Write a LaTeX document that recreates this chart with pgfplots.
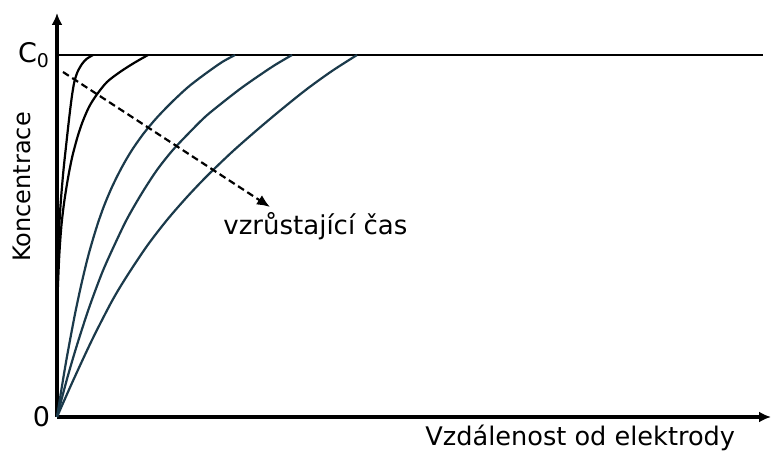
\documentclass[border=0pt]{standalone}
\usepackage{fontspec}
\setmainfont{DejaVu Sans}
\usepackage{pgfplots}
\pgfplotsset{compat=1.18}
\usetikzlibrary{arrows.meta}
\definecolor{teal1}{HTML}{1B3A4B}

\begin{document}
\begin{tikzpicture}
  \useasboundingbox (-28.5pt,-16.5pt) rectangle (357pt,208.5pt);
  \begin{axis}[
      anchor=origin, at={(0,0)},
      x=0.5pt, y=0.5pt,
      xmin=0, xmax=714, ymin=0, ymax=404,
      axis lines=left,
      axis line style={line width=1.6pt,-{Latex[length=6pt,width=5.5pt]}},
      clip=false,
      xtick=\empty,
      ytick={0,362},
      yticklabels={0,C\textsubscript{0}},
      major tick length=0pt,
      yticklabel style={font=\fontsize{13.5}{15}\selectfont},
    ]
    % C0 level
    \addplot[black, line width=1.1pt] coordinates {(0,362)(706,362)};
    % early times (black)
    \addplot[black, line width=1.1pt, smooth, tension=0.5] coordinates {
      (0.3,140)(1.5,175)(3.4,210)(6.3,245)(9.5,275)(12.3,300)(14.8,320)
      (17.3,335)(20.5,345)(25,353)(29.5,358)(36,362)};
    \addplot[black, line width=1.1pt, smooth, tension=0.5] coordinates {
      (0.5,120)(2.2,160)(4.3,190)(7.2,215)(11.2,240)(15.2,260)(20.5,280)
      (25.5,295)(32,310)(39.5,322)(50,335)(63,345)(77,354)(91,362)};
    % later times
    \addplot[teal1, line width=1.1pt, smooth, tension=0.5] coordinates {
      (0,0)(5,31)(10,60.5)(18,103)(25,135.5)(32,164)(40,191)(47,211)
      (55,230)(65,250)(75,267)(87,284)(100,299.5)(115,315)(130,329)
      (142,338.5)(155,348)(166,355.5)(178,362)};
    \addplot[teal1, line width=1.1pt, smooth, tension=0.5] coordinates {
      (0,0)(10,38)(20,72)(32,109)(45,144)(57,171)(70,198)(85,224)
      (100,247)(115,266)(130,282)(148,300)(165,314)(183,328)(200,340)
      (218,352)(235,362)};
    \addplot[teal1, line width=1.1pt, smooth, tension=0.5] coordinates {
      (0,0)(15,34)(35,77)(55,116)(70,141)(90,171)(110,197)(130,220)
      (150,241)(175,265)(200,287)(225,308)(250,328)(275,346)(300,362)};
    % time arrow
    \addplot[black, line width=1.1pt, dash pattern=on 3.5pt off 2pt,
      -{Latex[length=6.5pt,width=5.5pt]}] coordinates {(6,345)(213,210)};
    \node[anchor=base west, inner sep=0pt, font=\fontsize{13}{15}\selectfont]
      at (axis cs:166,182) {vzrůstající čas};
    \node[anchor=base west, inner sep=0pt, font=\fontsize{12.8}{15}\selectfont]
      at (axis cs:368,-28) {Vzdálenost od elektrody};
    \node[anchor=base, rotate=90, inner sep=0pt, font=\fontsize{12}{14}\selectfont]
      at (axis cs:-26,230) {Koncentrace};
  \end{axis}
\end{tikzpicture}
\end{document}
